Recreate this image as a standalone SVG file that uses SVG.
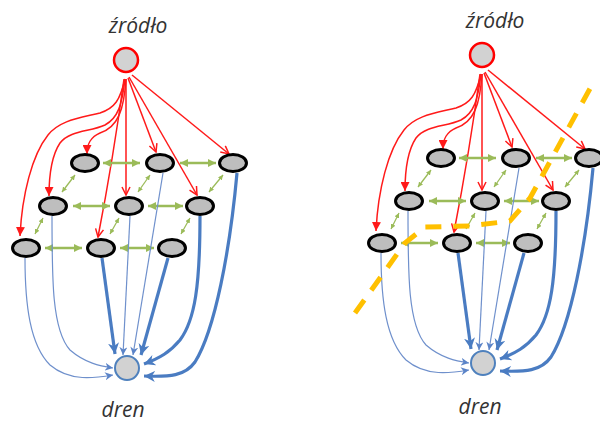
<svg xmlns="http://www.w3.org/2000/svg" width="600" height="422" viewBox="0 0 600 422">
<style>
.node{fill:#BEBEBE;stroke:#000;stroke-width:3}
.src{fill:#D2D2D2;stroke:#FF0000;stroke-width:2.5}
.sink{fill:#D2D2D2;stroke:#4F81BD;stroke-width:2}
.red{fill:none;stroke:#FF1A1A;stroke-width:1.5}
.ro{marker-end:url(#ro)}
.rf{marker-end:url(#rf)}
.g{stroke:#9BBB59;stroke-width:2.5;marker-start:url(#ga);marker-end:url(#ga)}
.gd{stroke:#9BBB59;stroke-width:1.3;marker-start:url(#gs);marker-end:url(#gs)}
.b{fill:none;stroke:#6F90CC;stroke-width:1.2;marker-end:url(#bs)}
.bt{fill:none;stroke:#4A7CC2;stroke-width:3.2;marker-end:url(#bl)}
.lbl{font-family:"Open Sans","Liberation Sans",sans-serif;font-style:italic;font-size:21px;fill:#333;text-anchor:middle}
.cut{fill:none;stroke:#FFC000;stroke-width:5;stroke-dasharray:16 12}
</style>
<defs>
<marker id="ro" markerUnits="userSpaceOnUse" viewBox="0 0 10 10" markerWidth="10" markerHeight="10" refX="9" refY="5" orient="auto"><path d="M1,1 L9,5 L1,9" fill="none" stroke="#FF1A1A" stroke-width="1.5"/></marker>
<marker id="rf" markerUnits="userSpaceOnUse" viewBox="0 0 10 10" markerWidth="9" markerHeight="9" refX="10" refY="5" orient="auto"><path d="M0,0 L10,5 L0,10 z" fill="#FF1A1A"/></marker>
<marker id="ga" markerUnits="userSpaceOnUse" viewBox="0 0 10 10" markerWidth="8" markerHeight="8" refX="10" refY="5" orient="auto-start-reverse"><path d="M0,0 L10,5 L0,10 z" fill="#9BBB59"/></marker>
<marker id="gs" markerUnits="userSpaceOnUse" viewBox="0 0 10 10" markerWidth="5" markerHeight="5" refX="10" refY="5" orient="auto-start-reverse"><path d="M0,0 L10,5 L0,10 z" fill="#9BBB59"/></marker>
<marker id="bs" markerUnits="userSpaceOnUse" viewBox="0 0 10 10" markerWidth="8" markerHeight="8" refX="10" refY="5" orient="auto"><path d="M0,0 L10,5 L0,10 L3,5 z" fill="#5B84C8"/></marker>
<marker id="bl" markerUnits="userSpaceOnUse" viewBox="0 0 10 10" markerWidth="11" markerHeight="11" refX="10" refY="5" orient="auto"><path d="M0,0 L10,5 L0,10 L3,5 z" fill="#4A7CC2"/></marker>
</defs>

<!-- LEFT NETWORK -->
<g id="left">
<g id="L-connectors">
<path class="red rf" d="M125,79 C120,100 115,108 100,113 C80,118 60,120 48,135 C32,155 22,195 20,236"/>
<path class="red rf" d="M125,79 C122,105 118,118 105,125 C90,132 70,130 60,143 C52,155 49,175 49,196"/>
<path class="red rf" d="M126,79 C124,110 118,127 100,133 C91,137 87,143 87,154"/>
<path class="red ro" d="M124,79 Q113,160 98,237"/>
<path class="red ro" d="M126,79 L126,195"/>
<path class="red ro" d="M128,78 L156,152"/>
<path class="red ro" d="M129,77 L197,195"/>
<path class="red ro" d="M132,75 L229,154"/>
<line class="g" x1="103" y1="163" x2="140" y2="163"/>
<line class="g" x1="180" y1="163" x2="216" y2="163"/>
<line class="g" x1="73" y1="206" x2="110" y2="206"/>
<line class="g" x1="148" y1="206" x2="183" y2="206"/>
<line class="g" x1="45" y1="248" x2="82" y2="248"/>
<line class="g" x1="120" y1="248" x2="154" y2="248"/>
<line class="gd" x1="62" y1="192" x2="75" y2="175"/>
<line class="gd" x1="138" y1="192" x2="150" y2="175"/>
<line class="gd" x1="209" y1="192" x2="223" y2="175"/>
<line class="gd" x1="35" y1="234" x2="43" y2="218"/>
<line class="gd" x1="110" y1="234" x2="119" y2="218"/>
<line class="gd" x1="181" y1="234" x2="190" y2="218"/>
<path class="b" d="M25,258 C25,305 30,345 50,365 C70,382 95,378 113,375"/>
<path class="b" d="M52,216 C52,280 52,330 70,350 C85,363 100,366 113,368"/>
<path class="bt" d="M102,258 L115,354"/>
<path class="b" d="M130,216 L123,355"/>
<path class="b" d="M163,173 L133,355"/>
<path class="bt" d="M168,258 L141,355"/>
<path class="bt" d="M200,216 C200,285 195,320 180,340 C170,352 160,358 144,364"/>
<path class="bt" d="M237,173 C230,250 215,330 195,362 C185,376 170,377 144,376"/>
</g>
<g id="L-source"><circle class="src" cx="126" cy="60" r="12"/></g>
<g id="L-a1"><ellipse class="node" cx="85" cy="163" rx="13.5" ry="8.5"/></g>
<g id="L-a2"><ellipse class="node" cx="160" cy="163" rx="13.5" ry="8.5"/></g>
<g id="L-a3"><ellipse class="node" cx="233" cy="163" rx="13.5" ry="8.5"/></g>
<g id="L-b1"><ellipse class="node" cx="53" cy="206" rx="13.5" ry="8.5"/></g>
<g id="L-b2"><ellipse class="node" cx="129" cy="206" rx="13.5" ry="8.5"/></g>
<g id="L-b3"><ellipse class="node" cx="200" cy="206" rx="13.5" ry="8.5"/></g>
<g id="L-c1"><ellipse class="node" cx="26" cy="248" rx="13.5" ry="8.5"/></g>
<g id="L-c2"><ellipse class="node" cx="101" cy="248" rx="13.5" ry="8.5"/></g>
<g id="L-c3"><ellipse class="node" cx="172" cy="248" rx="13.5" ry="8.5"/></g>
<g id="L-sink"><circle class="sink" cx="127" cy="368" r="12"/></g>
</g>
<text class="lbl" x="138" y="33">źródło</text>
<text class="lbl" x="123" y="417">dren</text>

<!-- RIGHT NETWORK -->
<g id="right" transform="translate(356,-5)">
<g id="R-connectors">
<path class="red rf" d="M125,79 C120,100 115,108 100,113 C80,118 60,120 48,135 C32,155 22,195 20,236"/>
<path class="red rf" d="M125,79 C122,105 118,118 105,125 C90,132 70,130 60,143 C52,155 49,175 49,196"/>
<path class="red rf" d="M126,79 C124,110 118,127 100,133 C91,137 87,143 87,154"/>
<path class="red ro" d="M124,79 Q113,160 98,237"/>
<path class="red ro" d="M126,79 L126,195"/>
<path class="red ro" d="M128,78 L156,152"/>
<path class="red ro" d="M129,77 L197,195"/>
<path class="red ro" d="M132,75 L229,154"/>
<line class="g" x1="103" y1="163" x2="140" y2="163"/>
<line class="g" x1="180" y1="163" x2="216" y2="163"/>
<line class="g" x1="73" y1="206" x2="110" y2="206"/>
<line class="g" x1="148" y1="206" x2="183" y2="206"/>
<line class="g" x1="45" y1="248" x2="82" y2="248"/>
<line class="g" x1="120" y1="248" x2="154" y2="248"/>
<line class="gd" x1="62" y1="192" x2="75" y2="175"/>
<line class="gd" x1="138" y1="192" x2="150" y2="175"/>
<line class="gd" x1="209" y1="192" x2="223" y2="175"/>
<line class="gd" x1="35" y1="234" x2="43" y2="218"/>
<line class="gd" x1="110" y1="234" x2="119" y2="218"/>
<line class="gd" x1="181" y1="234" x2="190" y2="218"/>
<path class="b" d="M25,258 C25,305 30,345 50,365 C70,382 95,378 113,375"/>
<path class="b" d="M52,216 C52,280 52,330 70,350 C85,363 100,366 113,368"/>
<path class="bt" d="M102,258 L115,354"/>
<path class="b" d="M130,216 L123,355"/>
<path class="b" d="M163,173 L133,355"/>
<path class="bt" d="M168,258 L141,355"/>
<path class="bt" d="M200,216 C200,285 195,320 180,340 C170,352 160,358 144,364"/>
<path class="bt" d="M237,173 C230,250 215,330 195,362 C185,376 170,377 144,376"/>
</g>
<g id="R-source"><circle class="src" cx="126" cy="60" r="12"/></g>
<g id="R-a1"><ellipse class="node" cx="85" cy="163" rx="13.5" ry="8.5"/></g>
<g id="R-a2"><ellipse class="node" cx="160" cy="163" rx="13.5" ry="8.5"/></g>
<g id="R-a3"><ellipse class="node" cx="233" cy="163" rx="13.5" ry="8.5"/></g>
<g id="R-b1"><ellipse class="node" cx="53" cy="206" rx="13.5" ry="8.5"/></g>
<g id="R-b2"><ellipse class="node" cx="129" cy="206" rx="13.5" ry="8.5"/></g>
<g id="R-b3"><ellipse class="node" cx="200" cy="206" rx="13.5" ry="8.5"/></g>
<g id="R-c1"><ellipse class="node" cx="26" cy="248" rx="13.5" ry="8.5"/></g>
<g id="R-c2"><ellipse class="node" cx="101" cy="248" rx="13.5" ry="8.5"/></g>
<g id="R-c3"><ellipse class="node" cx="172" cy="248" rx="13.5" ry="8.5"/></g>
<g id="R-sink"><circle class="sink" cx="127" cy="368" r="12"/></g>
</g>
<text class="lbl" x="495" y="28">źródło</text>
<text class="lbl" x="480" y="414">dren</text>

<g id="cut">
<path class="cut" d="M355,313 L405,243 L425,227 L470,226 L510,221 L530,198 L592,85"/>
</g>
</svg>
